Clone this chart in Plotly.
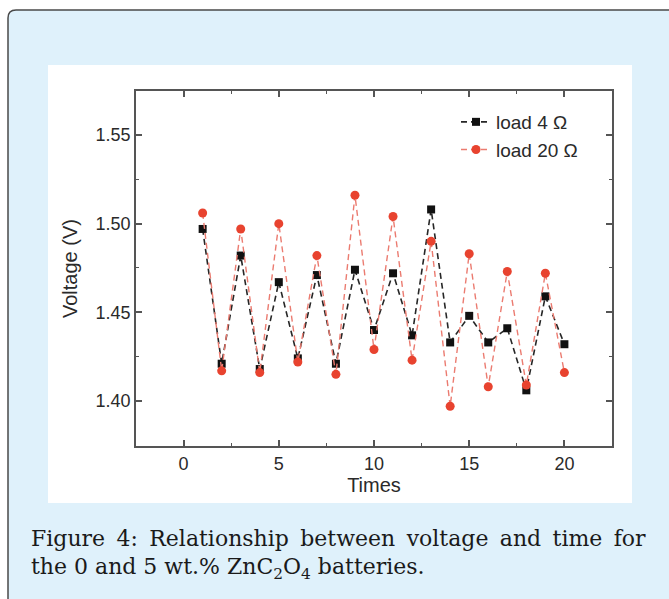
import plotly.graph_objects as go

times = list(range(1, 21))
load4 = [1.497, 1.421, 1.482, 1.418, 1.467, 1.424, 1.471, 1.421, 1.474, 1.440,
         1.472, 1.437, 1.508, 1.433, 1.448, 1.433, 1.441, 1.406, 1.459, 1.432]
load20 = [1.506, 1.417, 1.497, 1.416, 1.500, 1.422, 1.482, 1.415, 1.516, 1.429,
          1.504, 1.423, 1.490, 1.397, 1.483, 1.408, 1.473, 1.409, 1.472, 1.416]
x_ticks = [0, 5, 10, 15, 20]
y_ticks = [1.40, 1.45, 1.50, 1.55]
y_tick_labels = ["1.40", "1.45", "1.50", "1.55"]

W, H = 669, 599
L, R, T, B = 136, 612, 91, 446


def px(x):
    return (x - L) / (R - L)


def py(y):
    return (B - y) / (B - T)


fig = go.Figure()
fig.add_trace(go.Scatter(
    x=times, y=load4, mode="lines+markers", name="load 4 Ω",
    line=dict(color="#262626", width=1.6, dash="6px,4px"),
    marker=dict(symbol="square", size=8, color="#111111"),
))
fig.add_trace(go.Scatter(
    x=times, y=load20, mode="lines+markers", name="load 20 Ω",
    line=dict(color="#EB7B70", width=1.4, dash="6px,4px"),
    marker=dict(symbol="circle", size=9, color="#E8432F"),
))

shapes = []
# outer light-blue frame with rounded corner
x0, y0, x1, y1, r = px(8), py(10), px(700), py(640), 8
rx = r / (R - L)
ry = r / (B - T)
path = (f"M {x0},{y1} L {x0},{y0 - ry} Q {x0},{y0} {x0 + rx},{y0} "
        f"L {x1},{y0} L {x1},{y1} Z")
shapes.append(dict(type="path", xref="paper", yref="paper", path=path,
                   fillcolor="#DFF1FB", line=dict(color="#4a4a4a", width=1.5),
                   layer="below"))
# white figure panel
shapes.append(dict(type="rect", xref="paper", yref="paper",
                   x0=px(48), x1=px(632), y0=py(503), y1=py(65),
                   fillcolor="#FFFFFF", line=dict(width=0), layer="below"))

sans = "Liberation Sans, Arial, sans-serif"
axis_common = dict(
    showline=True, linecolor="#555555", linewidth=1.8, mirror="ticks",
    ticks="inside", ticklen=6, tickwidth=1.5, tickcolor="#555555",
    showgrid=False, zeroline=False,
    tickfont=dict(family=sans, size=18, color="#2a2a2a"),
)

fig.update_layout(
    width=W, height=H,
    margin=dict(l=L, r=W - R, t=T, b=H - B),
    paper_bgcolor="#FFFFFF", plot_bgcolor="rgba(0,0,0,0)",
    shapes=shapes,
    showlegend=True,
    legend=dict(x=px(456), y=py(103), xanchor="left", yanchor="top",
                bgcolor="rgba(0,0,0,0)",
                font=dict(family=sans, size=19, color="#2a2a2a"),
                tracegroupgap=0),
    xaxis=dict(range=[-2.5, 22.5], tickvals=x_ticks,
               minor=dict(dtick=2.5, tick0=0, ticks="inside", ticklen=3.5,
                          tickwidth=1.3, tickcolor="#555555"),
               title=dict(text="Times", standoff=4,
                          font=dict(family=sans, size=20, color="#2a2a2a")),
               **axis_common),
    yaxis=dict(range=[1.3746, 1.5748], tickvals=y_ticks, ticktext=y_tick_labels,
               minor=dict(dtick=0.025, tick0=1.4, ticks="inside", ticklen=3.5,
                          tickwidth=1.3, tickcolor="#555555"),
               title=dict(text="Voltage (V)", standoff=12,
                          font=dict(family=sans, size=20, color="#2a2a2a")),
               **axis_common),
)

cap_font = dict(family="DejaVu Serif, serif", size=22, color="#1a1a1a")
gap = "\u00a0\u2009"
line1 = gap.join(["Figure", "4:", "Relationship", "between", "voltage", "and", "time", "for"])
fig.add_annotation(xref="paper", yref="paper", x=px(29), y=py(538),
                   xanchor="left", yanchor="middle", showarrow=False,
                   text=line1, font=cap_font)
fig.add_annotation(xref="paper", yref="paper", x=px(29), y=py(568),
                   xanchor="left", yanchor="middle", showarrow=False,
                   text="the 0 and 5 wt.% ZnC<sub>2</sub>O<sub>4</sub> batteries.",
                   font=cap_font)

fig.write_html("out.html")
